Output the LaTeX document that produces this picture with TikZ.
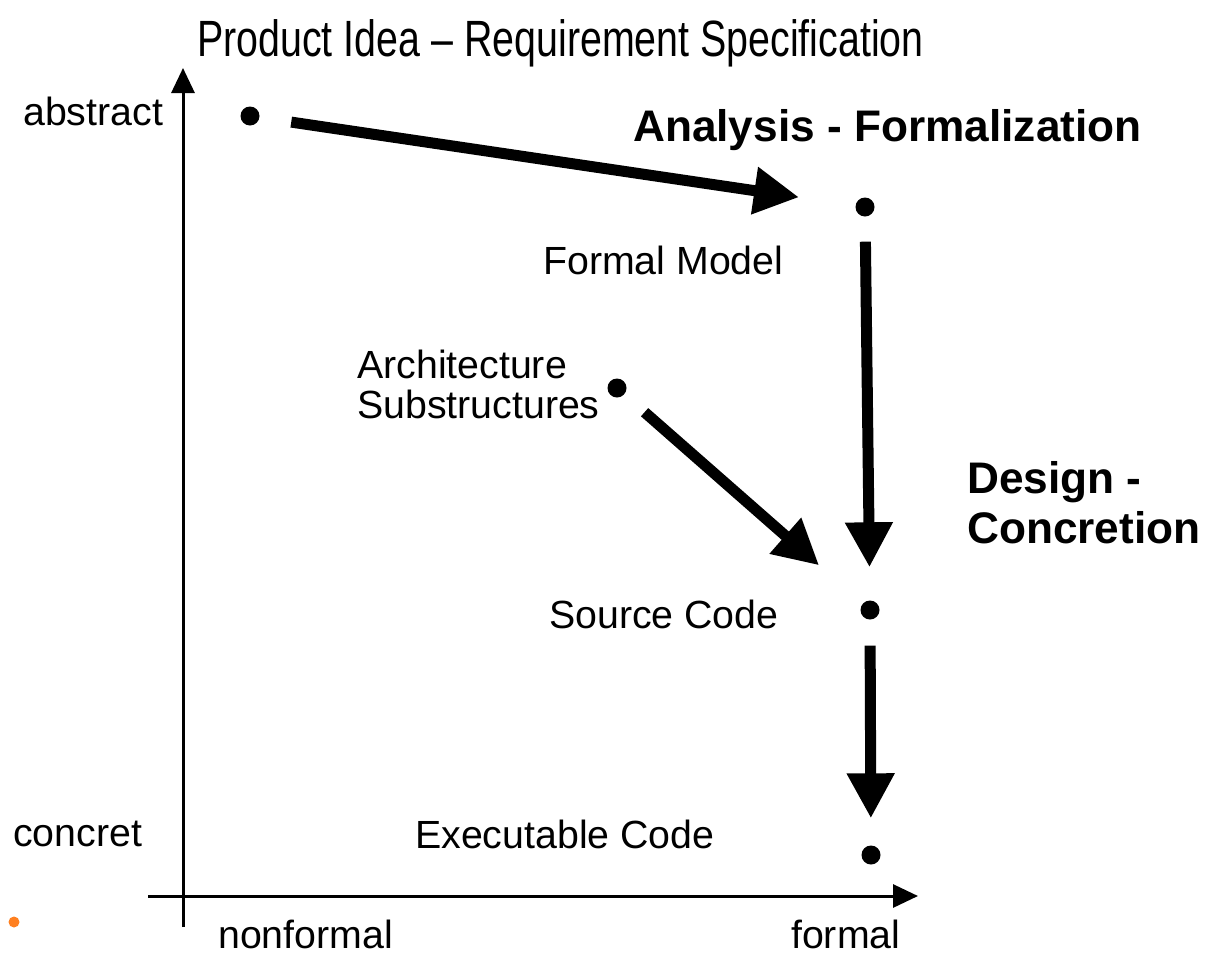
\documentclass[tikz,border=0pt]{standalone}
\usepackage{fontspec}
\setmainfont{Liberation Sans}
\usetikzlibrary{arrows.meta}
\definecolor{dotorange}{RGB}{255,128,32}
\tikzset{
  lbl/.style={anchor=base west, inner sep=0pt, font=\fontsize{39.3}{45}\selectfont},
  bold/.style={anchor=base west, inner sep=0pt, font=\fontsize{44.2}{50}\selectfont\bfseries},
  pt/.style={circle, fill=black, inner sep=0pt, minimum size=19pt},
  bigarrow/.style={line width=11pt, -{Triangle[length=45pt,width=45pt]}},
  axis/.style={line width=3pt, -{Triangle[length=25pt,width=23pt]}}
}
\begin{document}
\begin{tikzpicture}[x=1pt,y=-1pt]
\useasboundingbox (0,0) rectangle (1205,956);
% axes
\coordinate (yb) at (183,927);
\coordinate (yt) at (183,68);
\coordinate (xl) at (148,896);
\coordinate (xr) at (918,896);
\draw[axis] (yb) -- (yt);
\draw[axis] (xl) -- (xr);
% dots
\node[pt] (d1) at (250,116) {};
\node[pt] (d2) at (865,207) {};
\node[pt] (d3) at (617,388) {};
\node[pt] (d4) at (870,610) {};
\node[pt] (d5) at (871,855) {};
\node[circle, fill=dotorange, inner sep=0pt, minimum size=11pt] (od) at (14,922) {};
% arrows
\draw[bigarrow, shorten <=32pt, shorten >=57pt] (d1) -- (d2);
\draw[bigarrow, shorten <=25pt, shorten >=33pt] (d2) -- (d4);
\draw[bigarrow, shorten <=27pt, shorten >=58pt] (d3) -- (d4);
\draw[bigarrow, shorten <=26pt, shorten >=27pt] (d4) -- (d5);
% labels
\node[anchor=base west, inner sep=0pt, font=\fontsize{51}{56}\selectfont] (title) at (197,56) {\scalebox{0.772}[1]{Product Idea -- Requirement Specification}};
\node[lbl] (abs) at (23,125) {abstract};
\node[lbl] (con) at (13,846) {concret};
\node[lbl] (nonf) at (218,948) {nonformal};
\node[lbl] (form) at (791,948) {formal};
\node[bold] (ana) at (633,141) {Analysis - Formalization};
\node[lbl] (fm) at (543,274) {Formal Model};
\node[lbl] (arch) at (357,378) {Architecture};
\node[lbl] (sub) at (357,418) {Substructures};
\node[bold] (des) at (967,493) {Design -};
\node[bold] (conc) at (967,543) {Concretion};
\node[lbl] (sc) at (549,628) {Source Code};
\node[lbl] (ex) at (415,848) {Executable Code};
\end{tikzpicture}
\end{document}
